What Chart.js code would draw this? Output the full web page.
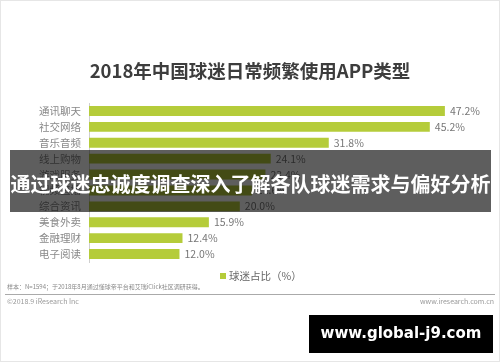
<!DOCTYPE html>
<html>
<head>
<meta charset="utf-8">
<script src="https://cdn.jsdelivr.net/npm/chart.js@4/dist/chart.umd.min.js"></script>
<style>
  html, body { margin: 0; padding: 0; background: #fff; }
  #wrap { position: relative; width: 500px; height: 362px; overflow: hidden; font-family: "Noto Sans CJK SC", "Noto Sans", sans-serif; }
  #c { position: absolute; left: 0; top: 0; }
  .abs { position: absolute; white-space: nowrap; }
  #title { left: 0; width: 500px; top: 58px; text-align: center; font-size: 18.5px; font-weight: bold; color: #3d3d3d; line-height: 24px; }
  #banner { left: 10px; top: 150px; width: 481px; height: 62px; background: rgba(0,0,0,0.63); z-index: 5; }
  #bannerText { left: 10px; width: 481px; top: 171px; text-align: center; font-size: 20px; font-weight: bold; color: #fff; line-height: 26px; z-index: 6; letter-spacing: 0px; }
  #legend { left: 220px; top: 269px; font-size: 10.5px; color: #666; line-height: 14px; }
  #legend span.sw { display: inline-block; width: 6px; height: 6px; background: #b5cc3a; margin-right: 3px; vertical-align: 1px; }
  #note { left: 7px; top: 283px; font-size: 6px; color: #888; line-height: 8px; }
  #rule { left: 5px; top: 294px; width: 490px; height: 1px; background: #aaa; }
  #copy { left: 7px; top: 297px; font-size: 7px; color: #999; line-height: 9px; }
  #site { right: 6px; top: 297px; font-size: 7px; color: #999; line-height: 9px; }
  #wm { left: 309px; top: 315px; width: 184px; height: 38px; background: #000; z-index: 7; }
  #wmText { left: 309px; width: 184px; top: 322px; text-align: center; font-family: "DejaVu Sans", sans-serif; font-weight: bold; font-size: 15px; color: #fff; line-height: 22px; z-index: 8; }
  #frame { left: 0; top: 0; width: 498px; height: 360px; border: 1px solid #e6e6e6; z-index: 9; }
</style>
</head>
<body>
<div id="wrap">
  <canvas id="c" width="500" height="362"></canvas>
  <div class="abs" id="title">2018年中国球迷日常频繁使用APP类型</div>
  <div class="abs" id="banner"></div>
  <div class="abs" id="bannerText">通过球迷忠诚度调查深入了解各队球迷需求与偏好分析</div>
  <div class="abs" id="legend"><span class="sw"></span>球迷占比（%）</div>
  <div class="abs" id="note">样本：N=1594；于2018年8月通过懂球帝平台和艾瑞iClick社区调研获得。</div>
  <div class="abs" id="rule"></div>
  <div class="abs" id="copy">©2018.9 iResearch Inc</div>
  <div class="abs" id="site">www.iresearch.com.cn</div>
  <div class="abs" id="wm"></div>
  <div class="abs" id="wmText">www.global-j9.com</div>
  <div class="abs" id="frame"></div>
</div>
<script>
const categories = ["通讯聊天", "社交网络", "音乐音频", "线上购物", "游戏服务", "视频直播", "综合资讯", "美食外卖", "金融理财", "电子阅读"];
const shareValues = [47.2, 45.2, 31.8, 24.1, 23.4, 21.6, 20.0, 15.9, 12.4, 12.0];
const seriesName = "球迷占比（%）";

const valueLabels = {
  id: 'valueLabels',
  afterDatasetsDraw(chart) {
    const ctx = chart.ctx;
    const meta = chart.getDatasetMeta(0);
    ctx.save();
    ctx.font = '10.5px "Noto Sans CJK SC", "Noto Sans", sans-serif';
    ctx.fillStyle = '#777';
    ctx.textAlign = 'left';
    ctx.textBaseline = 'middle';
    meta.data.forEach((bar, i) => {
      ctx.fillText(shareValues[i].toFixed(1) + '%', bar.x + 5, bar.y);
    });
    ctx.restore();
  }
};

new Chart(document.getElementById('c'), {
  type: 'bar',
  data: {
    labels: categories,
    datasets: [{
      label: seriesName,
      data: shareValues,
      backgroundColor: '#b5cc3a',
      barPercentage: 0.62,
      categoryPercentage: 1.0
    }]
  },
  options: {
    indexAxis: 'y',
    responsive: false,
    animation: false,
    layout: { padding: { top: 103, bottom: 100, left: 0, right: 34 } },
    plugins: { legend: { display: false }, tooltip: { enabled: false }, title: { display: false } },
    scales: {
      x: { display: false, min: 0, max: 50 },
      y: {
        grid: { display: false, drawTicks: false },
        border: { display: true, color: '#cfcfcf' },
        ticks: { color: '#888', font: { size: 10.5, family: '"Noto Sans CJK SC", "Noto Sans", sans-serif' }, padding: 8 },
        afterFit(scale) { scale.width = 89; }
      }
    }
  },
  plugins: [valueLabels]
});
</script>
</body>
</html>
